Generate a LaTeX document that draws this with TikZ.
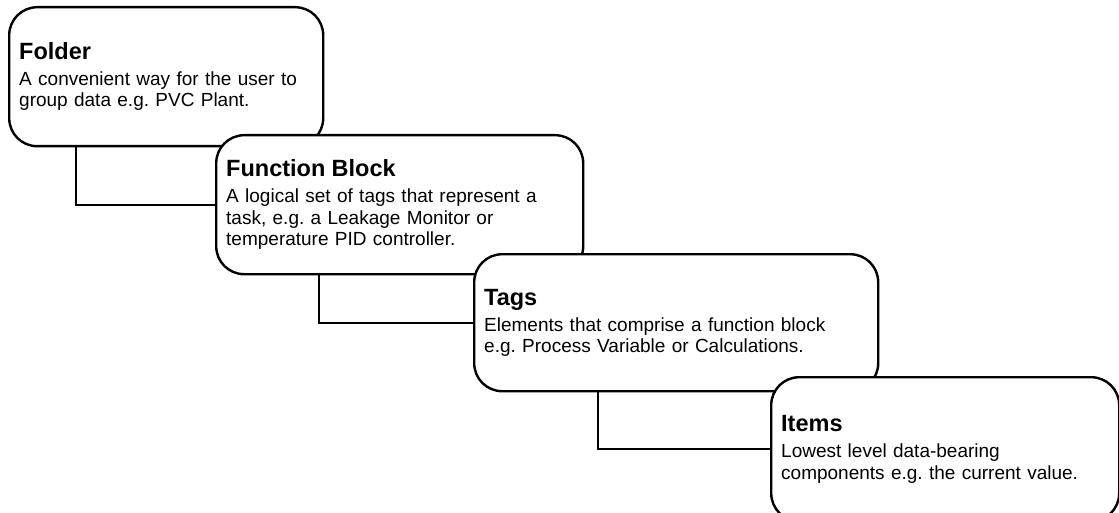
\documentclass[tikz,border=0pt]{standalone}
\usepackage{fontspec}
\setmainfont{Liberation Sans}
\usetikzlibrary{positioning}
\frenchspacing

\newcommand{\boxhead}[1]{{\fontsize{23.5}{26}\selectfont\bfseries #1}}

\begin{document}
\begin{tikzpicture}[x=1pt, y=-1pt,
    levelbox/.style={draw, line width=2.4pt, rounded corners=28pt, fill=white,
        anchor=north west, inner xsep=10pt, inner ysep=0pt, align=left,
        font=\fontsize{19}{21.5}\selectfont},
    link/.style={line width=2.2pt}]
    \useasboundingbox (0,0) rectangle (1119,513);
    \clip (0,0) rectangle (1119,513);

    % Boxes and links
    \node[levelbox, text width=294pt, minimum height=139pt] (folder) at (8,6)
        {\boxhead{Folder}\\[4.5pt]A convenient way for the user to\\group data e.g. PVC Plant.};

    \node[levelbox, text width=347pt, minimum height=139pt] (fblock) at (215,134)
        {\boxhead{Function Block}\\[4.5pt]A logical set of tags that represent a\\task, e.g. a Leakage Monitor or\\temperature PID controller.};
    \draw[link] ([xshift=68pt]folder.south west) |- (fblock.west);

    \node[levelbox, text width=384pt, minimum height=137pt] (tags) at (473,253)
        {\boxhead{Tags}\\[4.5pt]Elements that comprise a function block\\e.g. Process Variable or Calculations.};
    \draw[link] ([xshift=104pt]fblock.south west) |- (tags.west);

    \node[levelbox, text width=328pt, minimum height=144pt] (items) at (770,376)
        {\boxhead{Items}\\[4.5pt]Lowest level data-bearing\\components e.g. the current value.};
    \draw[link] ([xshift=125pt]tags.south west) |- (items.west);
\end{tikzpicture}
\end{document}
